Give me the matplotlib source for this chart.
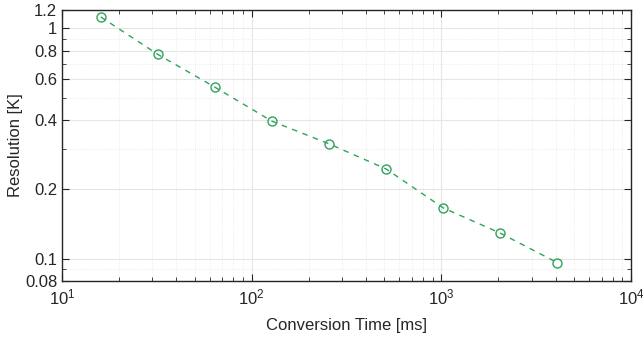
import matplotlib
matplotlib.use("Agg")
import matplotlib.pyplot as plt
from matplotlib.ticker import FixedLocator, FixedFormatter, LogLocator, NullFormatter

conv_time_ms = [16, 32, 64, 128, 256, 512, 1024, 2048, 4096]
resolution_K = [1.12, 0.77, 0.555, 0.395, 0.315, 0.245, 0.166, 0.129, 0.096]
ytick_vals = [0.08, 0.1, 0.2, 0.4, 0.6, 0.8, 1, 1.2]
ytick_labels = ["0.08", "0.1", "0.2", "0.4", "0.6", "0.8", "1", "1.2"]

plt.rcParams['font.family'] = ['Liberation Sans', 'DejaVu Sans']
plt.rcParams['mathtext.fontset'] = 'custom'
plt.rcParams['mathtext.rm'] = 'Liberation Sans'
plt.rcParams['mathtext.it'] = 'Liberation Sans'

fig = plt.figure(figsize=(6.43, 3.37), dpi=100)
ax = fig.add_axes([62/643, 1 - 281/337, (631-62)/643, (281-10)/337])

color = '#30a35c'
ax.plot(conv_time_ms, resolution_K, linestyle='--', color=color, lw=1.0,
        marker='o', markersize=6.5, markerfacecolor='none', markeredgecolor=color,
        markeredgewidth=1.0, dashes=(4, 4))

ax.set_xscale('log')
ax.set_yscale('log')
ax.set_xlim(10, 1e4)
ax.set_ylim(0.08, 1.2)

ax.yaxis.set_major_locator(FixedLocator(ytick_vals))
ax.yaxis.set_major_formatter(FixedFormatter(ytick_labels))
ax.yaxis.set_minor_locator(FixedLocator([0.09, 0.3, 0.5, 0.7, 0.9]))
ax.yaxis.set_minor_formatter(NullFormatter())

ax.xaxis.set_major_locator(LogLocator(base=10, numticks=10))
ax.xaxis.set_minor_locator(LogLocator(base=10, subs=range(2, 10), numticks=20))
ax.xaxis.set_minor_formatter(NullFormatter())

ax.grid(True, which='major', color='#e6e6e6', lw=0.8, ls='-')
ax.grid(True, which='minor', color='#e6e6e6', lw=0.6, ls=':')
ax.set_axisbelow(True)

ax.tick_params(which='both', direction='in', top=True, right=True, labelsize=12, colors='#262626')
ax.tick_params(which='major', length=5, width=0.8)
ax.tick_params(which='minor', length=3, width=0.6)
ax.tick_params(axis='x', which='major', pad=5)
for s in ax.spines.values():
    s.set_color('#262626')
    s.set_linewidth(1.0)

ax.set_xlabel('Conversion Time [ms]', fontsize=12, color='#262626', labelpad=7)
ax.set_ylabel('Resolution [K]', fontsize=12, color='#262626', labelpad=1)

fig.savefig('out.png', dpi=100)
